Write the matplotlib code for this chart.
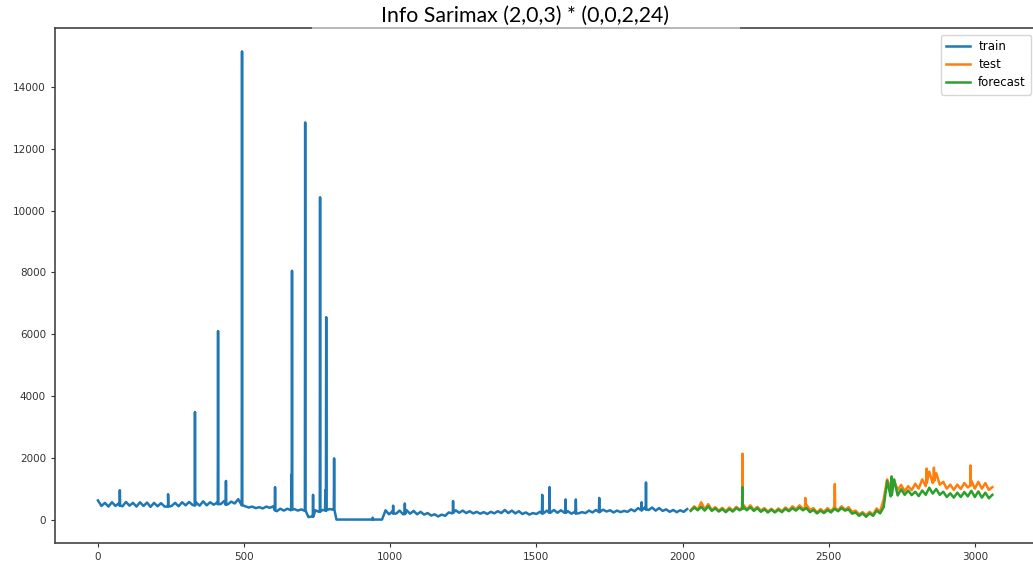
import numpy as np
import matplotlib
matplotlib.use('Agg')
import matplotlib.pyplot as plt

title = 'Info Sarimax (2,0,3) * (0,0,2,24)'
step = 12

# train, sampled every 12 steps from 0
train_y = [620, 440, 540, 420, 560, 440, 530, 430, 570, 450, 540, 420, 560, 440, 550, 410,
           540, 430, 530, 420, 510, 440, 540, 430, 560, 460, 570, 470, 550, 450, 590, 460,
           560, 480, 550, 500, 600, 490, 580, 520, 660,
           460, 430, 390, 420, 370, 400, 360, 420, 380, 430, 270, 350, 290, 350, 300, 340,
           290, 330, 280, 80, 100, 300, 250, 310, 280, 340, 320,
           0, 0, 0, 0, 0, 0, 0, 0, 0, 0, 0, 0, 0, 0,
           300, 170, 270, 190, 290, 170, 300, 190, 280, 170, 250, 160, 210, 130, 170, 100,
           160, 120, 230, 200, 300, 220, 290, 210, 270, 200, 250, 190, 240, 180, 250, 200,
           270, 210, 310, 210, 290, 200, 270, 180, 230, 160, 210, 180, 250, 200, 290, 220,
           310, 220, 300, 220, 270, 190, 250, 200, 240, 210, 290, 230, 310, 250, 320, 260,
           300, 230, 290, 240, 280, 250, 330, 270, 370, 300, 400, 310, 390, 290, 370, 280,
           330, 250, 310, 240, 300, 250, 340]
train_spike_x = [75, 240, 332, 411, 438, 493, 606, 662, 664, 709, 736, 760, 778, 781, 808,
                 940, 1010, 1050, 1215, 1520, 1545, 1600, 1635, 1715, 1860, 1875]
train_spike_y = [950, 820, 3480, 6100, 1250, 15150, 1050, 1450, 8050, 12850, 800, 10430,
                 950, 6550, 1980, 60, 450, 520, 600, 800, 1050, 650, 650, 700, 560, 1200]
train_spike_base = [450, 420, 460, 500, 480, 470, 300, 320, 320, 300, 100, 260, 300, 300,
                    320, 0, 200, 180, 220, 200, 220, 220, 200, 240, 300, 330]

# test and forecast, sampled every 12 steps from 2028
test_y = [300, 430, 320, 560, 330, 500, 310, 400, 290, 380, 270, 390, 290, 410, 320,
          480, 330, 460, 310, 410, 290, 370, 260, 350, 250, 360, 270, 390, 300, 430, 330,
          460, 350, 480, 310, 370, 230, 340, 250, 370, 270, 410, 300, 430, 320, 400, 250,
          290, 170, 240, 140, 250, 160, 360, 250, 650, 1300, 1000, 1250, 960, 1120, 920,
          1080, 950, 1160, 1000, 1300, 1080, 1550, 1180, 1500, 1130, 1220, 1000, 1130, 960,
          1130, 990, 1180, 1040, 1260, 1000, 1220, 1000, 1180, 960, 1050]
test_spike_x = [2205, 2420, 2521, 2715, 2835, 2860, 2985]
test_spike_y = [2130, 700, 1150, 1400, 1650, 1680, 1750]
test_spike_base = [400, 380, 380, 1100, 1200, 1250, 1100]

forecast_y = [280, 390, 300, 410, 290, 430, 280, 360, 260, 340, 240, 340, 260, 370, 300,
              400, 300, 400, 280, 370, 250, 330, 230, 320, 230, 320, 240, 350, 270, 370, 290,
              390, 300, 370, 240, 310, 200, 290, 210, 310, 230, 350, 270, 370, 290, 330, 190,
              230, 120, 200, 90, 200, 120, 290, 200, 400, 1250, 750, 1300, 780, 980, 800,
              940, 790, 900, 760, 940, 800, 1030, 840, 990, 800, 900, 730, 850, 710,
              870, 730, 890, 750, 930, 730, 910, 710, 870, 690, 800]
forecast_spike_x = [2205, 2715]
forecast_spike_y = [1050, 1380]
forecast_spike_base = [350, 800]


def build(start, ys, sx, sy, sb):
    x = list(start + np.arange(len(ys)) * step)
    y = list(ys)
    for a, peak, b in zip(sx, sy, sb):
        x += [a - 1, a, a + 1]
        y += [b, peak, b]
    order = np.argsort(x, kind='stable')
    return np.array(x)[order], np.array(y)[order]


tx, ty = build(0, train_y, train_spike_x, train_spike_y, train_spike_base)
sx, sy = build(2028, test_y, test_spike_x, test_spike_y, test_spike_base)
fx, fy = build(2028, forecast_y, forecast_spike_x, forecast_spike_y, forecast_spike_base)

fig = plt.figure(figsize=(10.33, 5.65), dpi=100)
ax = fig.add_axes([0.0532, 0.039, 0.9584, 0.9115])
ax.plot(tx, ty, color='#1f77b4', lw=1.8, label='train')
ax.plot(sx, sy, color='#ff7f0e', lw=1.8, label='test')
ax.plot(fx, fy, color='#2ca02c', lw=1.8, label='forecast')

ax.set_xlim(-147, 3240)
ax.set_xticks([0, 500, 1000, 1500, 2000, 2500, 3000])
ax.set_yticks([0, 2000, 4000, 6000, 8000, 10000, 12000, 14000])
ax.tick_params(labelsize=7.5, colors='#333333', length=3)
for s in ax.spines.values():
    s.set_color('#444444')
    s.set_linewidth(1.2)
ax.legend(loc='upper left', fontsize=8.5, frameon=True, handlelength=2.0,
          labelspacing=0.42, borderaxespad=0, borderpad=0.45, handletextpad=0.7,
          bbox_to_anchor=(941 / 1033, 1 - 35 / 565), bbox_transform=fig.transFigure)

# lighter strip where the title sits over the top spine
fig.add_artist(plt.Rectangle((312 / 1033, 1 - 31 / 565), 428 / 1033, 6 / 565,
                             transform=fig.transFigure, facecolor='white',
                             edgecolor='none', alpha=0.55))
fig.text(0.508, 0.972, title, ha='center', va='center', fontsize=15.3, family='Lato')

plt.savefig('out.png', dpi=100)
